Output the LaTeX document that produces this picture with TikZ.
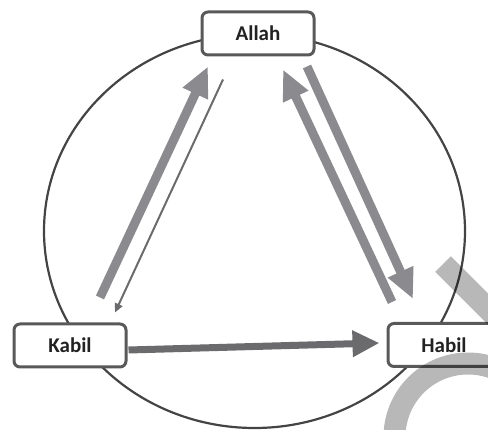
\documentclass[tikz,border=0pt]{standalone}
\usepackage{fontspec}
\setmainfont{Carlito}
\usetikzlibrary{arrows.meta}

\definecolor{boxline}{HTML}{595959}
\definecolor{ringline}{HTML}{444444}
\definecolor{lightarrow}{HTML}{8B8B8F}
\definecolor{darkarrow}{HTML}{6B6B6E}
\definecolor{labeltext}{HTML}{222222}

\begin{document}
\begin{tikzpicture}[x=1pt, y=-1pt]  % Pixel units, y grows downwards

    % Define some common styles
    \tikzset{
        person/.style={draw=boxline, line width=3pt, rounded corners=6pt, fill=white,
                       minimum width=112pt, minimum height=43pt, text=labeltext,
                       font=\fontsize{21}{25}\selectfont\bfseries},
        widearrow/.style={draw=lightarrow, line width=9pt,
                          -{Triangle[length=30pt, width=26pt]}},
        thinarrow/.style={draw=darkarrow, line width=2pt,
                          -{Triangle[length=9pt, width=8pt]}},
        flatarrow/.style={draw=darkarrow, line width=7pt,
                          -{Triangle[length=27pt, width=25pt]}},
        watermark/.style={black, opacity=0.28, line width=22pt}
    }

    % Fix the canvas - 488 x 430
    \useasboundingbox (0,0) rectangle (488,430);
    \clip (0,0) rectangle (488,430);

    % Draw the big ring round the three persons
    \draw[ringline, line width=2.2pt] (254.5,231) ellipse (210.5 and 197);

    % Draw the three persons
    \node[person] (allah) at (258,33.5) {Allah};
    \node[person] (kabil) at (70,345.5) {Kabil};
    \node[person] (habil) at (444,345) {Habil};

    % Kabil and Allah
    \draw[widearrow] ([xshift=30pt, yshift=25pt]kabil.north) -- ([xshift=-50pt, yshift=-10pt]allah.south);
    \draw[thinarrow] ([xshift=-35pt, yshift=-23pt]allah.south) -- ([xshift=45pt, yshift=10pt]kabil.north);

    % Habil and Allah
    \draw[widearrow] ([xshift=-52pt, yshift=20pt]habil.north) -- ([xshift=25pt, yshift=-13pt]allah.south);
    \draw[widearrow] ([xshift=49pt, yshift=-10pt]allah.south) -- ([xshift=-31pt, yshift=23pt]habil.north);

    % Kabil to Habil
    \draw[flatarrow] ([xshift=1pt, yshift=-4.5pt]kabil.east) -- ([xshift=-7pt, yshift=2pt]habil.west);

    % Watermark pieces (light grey)
    \draw[watermark] (443,264) -- (530,351);
    \draw[watermark] (468,437) circle (73.5);

\end{tikzpicture}
\end{document}
